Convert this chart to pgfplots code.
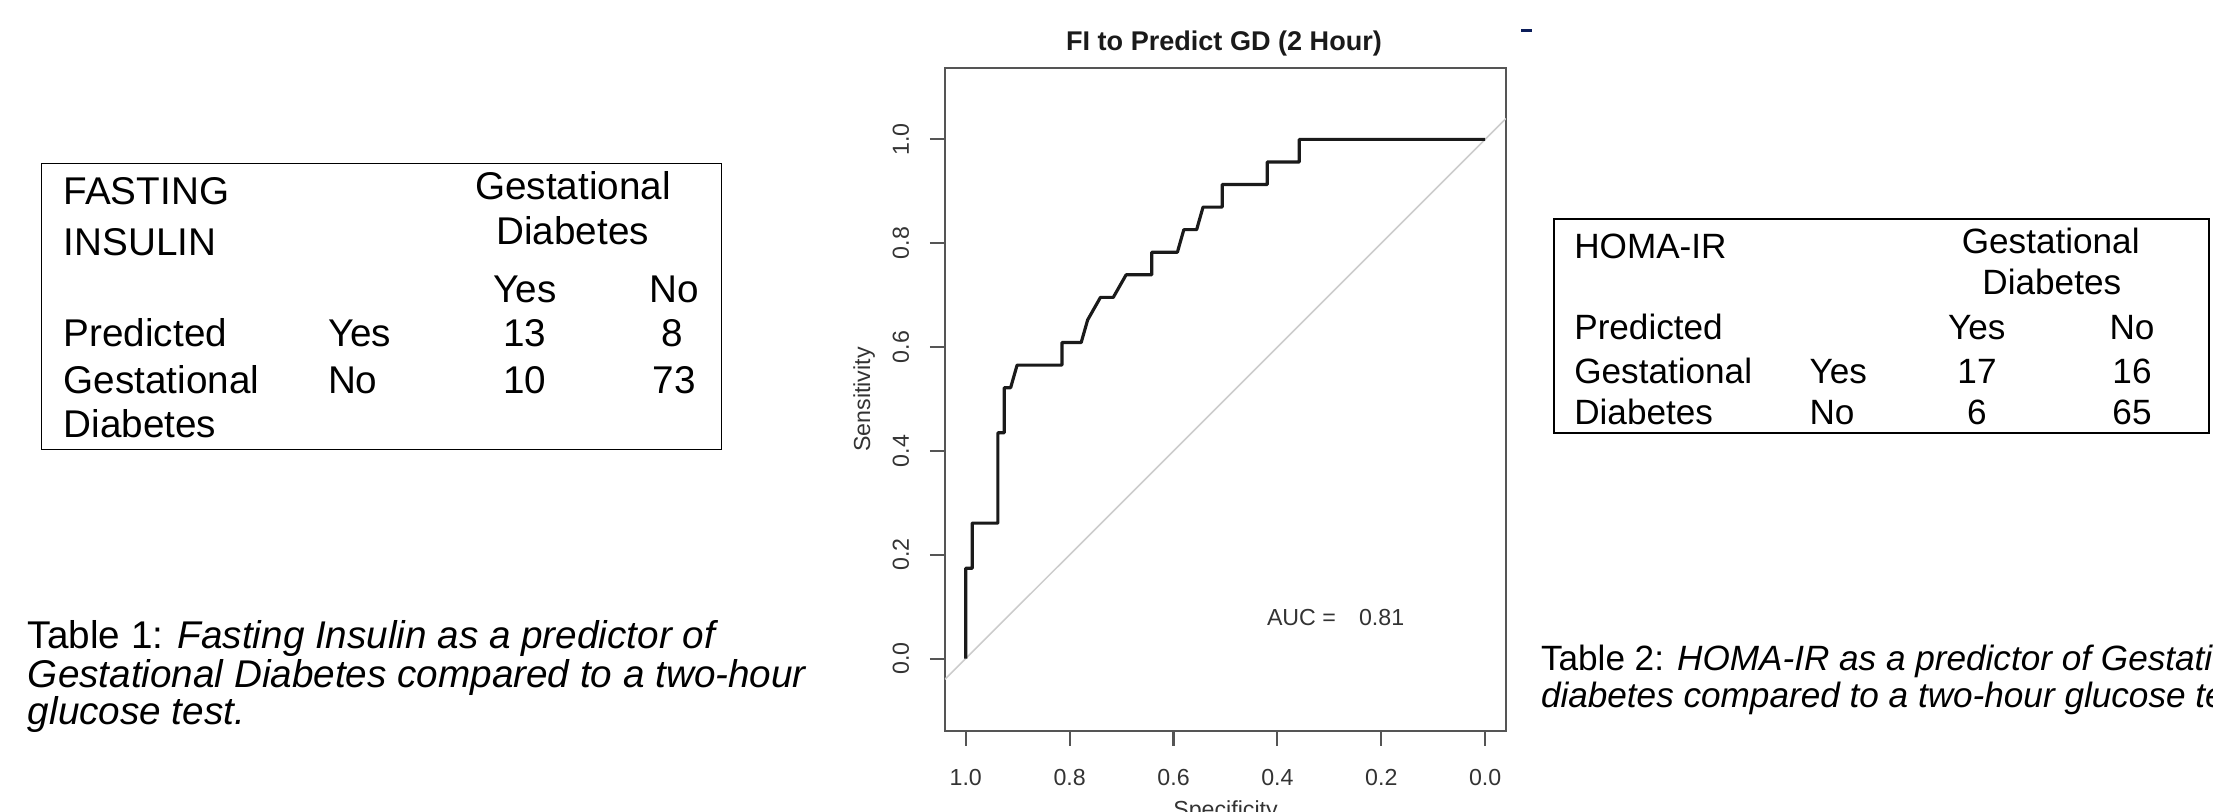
\documentclass[border=0pt]{standalone}
\usepackage{pgfplots}
\pgfplotsset{compat=1.18}
\usepackage{fontspec}
\setmainfont{Liberation Sans}
\definecolor{curve}{HTML}{1A1A1A}
\definecolor{boxc}{HTML}{555555}
\definecolor{diag}{HTML}{CCCCCC}
\definecolor{navy}{HTML}{0C1E5A}
\definecolor{lbl}{HTML}{333333}
\newcommand{\tabfont}{\fontsize{11}{13}\selectfont}
\newcommand{\tabfontb}{\fontsize{10}{12}\selectfont}
\newcommand{\plotfont}{\fontsize{6.6}{7.9}\selectfont}
\begin{document}
\begin{tikzpicture}[every node/.style={inner sep=0pt, outer sep=0pt}]
\path[use as bounding box] (0,0) rectangle (22.13,8.12);
\clip (0,0) rectangle (22.13,8.12);
\begin{axis}[
  at={(9.45cm,0.81cm)}, anchor=south west, scale only axis,
  width=5.61cm, height=6.63cm,
  xmin=-0.04, xmax=1.04, x dir=reverse,
  ymin=-0.1395, ymax=1.1375,
  xtick={0,0.2,0.4,0.6,0.8,1}, xticklabels={0.0,0.2,0.4,0.6,0.8,1.0},
  ytick={0,0.2,0.4,0.6,0.8,1}, yticklabels={0.0,0.2,0.4,0.6,0.8,1.0},
  xtick pos=bottom, ytick pos=left, tick align=outside,
  major tick length=0.15cm,
  major tick style={boxc, line width=0.6pt},
  axis line style={boxc, line width=0.75pt},
  ticklabel style={font=\plotfont, text=lbl},
  /pgf/number format/assume math mode=true,
  yticklabel style={rotate=90, anchor=south},
  xticklabel style={anchor=north},
  xticklabel shift=0.23cm,
  yticklabel shift=0.21cm,
]
\addplot[diag, line width=0.45pt] coordinates {(1.04,-0.04) (-0.04,1.04)};
\addplot[curve, line width=0.9pt, line join=round] coordinates {
(1,0) (1,0.17391) (0.98765,0.17391) (0.98765,0.26087) (0.93827,0.26087)
(0.93827,0.43478) (0.92593,0.43478) (0.92593,0.52174) (0.91358,0.52174)
(0.90123,0.56522) (0.81481,0.56522) (0.81481,0.60870) (0.77778,0.60870)
(0.76543,0.65217) (0.74074,0.69565) (0.71605,0.69565) (0.69136,0.73913)
(0.64198,0.73913) (0.64198,0.78261) (0.59259,0.78261) (0.58025,0.82609)
(0.55556,0.82609) (0.54321,0.86957) (0.50617,0.86957) (0.50617,0.91304)
(0.41975,0.91304) (0.41975,0.95652) (0.35802,0.95652) (0.35802,1) (0,1)};
\end{axis}
% plot texts
\node[font=\fontsize{7.7}{9}\selectfont\bfseries, text=curve] at (12.24,7.68) {FI to Predict GD (2 Hour)};
\node[font=\plotfont, text=lbl, anchor=base west] at (12.67,1.86) {AUC =};
\node[font=\plotfont, text=lbl, anchor=base west] at (13.59,1.86) {0.81};
\node[font=\plotfont, text=lbl, rotate=90] at (8.64,4.125) {Sensitivity};
\node[font=\plotfont, text=lbl] at (12.255,0.0) {Specificity};
\fill[navy] (15.21,7.83) rectangle (15.32,7.795);
% left table
\draw[black, line width=0.55pt] (0.415,3.625) rectangle (7.215,6.485);
\begin{scope}[every node/.append style={font=\tabfont}]
\node[anchor=base west] at (0.637,6.077) {FASTING};
\node[anchor=base west] at (0.637,5.56) {INSULIN};
\node[anchor=base] at (5.73,6.12) {Gestational};
\node[anchor=base] at (5.727,5.677) {Diabetes};
\node[anchor=base] at (5.25,5.097) {Yes};
\node[anchor=base] at (6.74,5.097) {No};
\node[anchor=base west] at (0.637,4.653) {Predicted};
\node[anchor=base west] at (3.28,4.653) {Yes};
\node[anchor=base] at (5.25,4.653) {13};
\node[anchor=base] at (6.72,4.653) {8};
\node[anchor=base west] at (0.637,4.18) {Gestational};
\node[anchor=base west] at (3.28,4.18) {No};
\node[anchor=base] at (5.25,4.18) {10};
\node[anchor=base] at (6.74,4.18) {73};
\node[anchor=base west] at (0.637,3.747) {Diabetes};
\node[anchor=base west] at (0.28,1.63) {Table 1: \textit{Fasting Insulin as a predictor of}};
\node[anchor=base west] at (0.28,1.24) {\textit{Gestational Diabetes compared to a two-hour}};
\node[anchor=base west] at (0.28,0.87) {\textit{glucose test.}};
\end{scope}
% right table
\draw[black, line width=0.55pt] (15.54,3.79) rectangle (22.09,5.927);
\begin{scope}[every node/.append style={font=\tabfontb}]
\node[anchor=base west] at (15.743,5.53) {HOMA-IR};
\node[anchor=base] at (20.507,5.58) {Gestational};
\node[anchor=base] at (20.518,5.17) {Diabetes};
\node[anchor=base west] at (15.743,4.72) {Predicted};
\node[anchor=base] at (19.767,4.72) {Yes};
\node[anchor=base] at (21.32,4.72) {No};
\node[anchor=base west] at (15.743,4.285) {Gestational};
\node[anchor=base west] at (18.095,4.285) {Yes};
\node[anchor=base] at (19.77,4.285) {17};
\node[anchor=base] at (21.32,4.285) {16};
\node[anchor=base west] at (15.743,3.87) {Diabetes};
\node[anchor=base west] at (18.095,3.87) {No};
\node[anchor=base] at (19.77,3.87) {6};
\node[anchor=base] at (21.32,3.87) {65};
\node[anchor=base west] at (15.41,1.41) {Table 2: \textit{HOMA-IR as a predictor of Gestational}};
\node[anchor=base west] at (15.41,1.04) {\textit{diabetes compared to a two-hour glucose test.}};
\end{scope}
\end{tikzpicture}
\end{document}
